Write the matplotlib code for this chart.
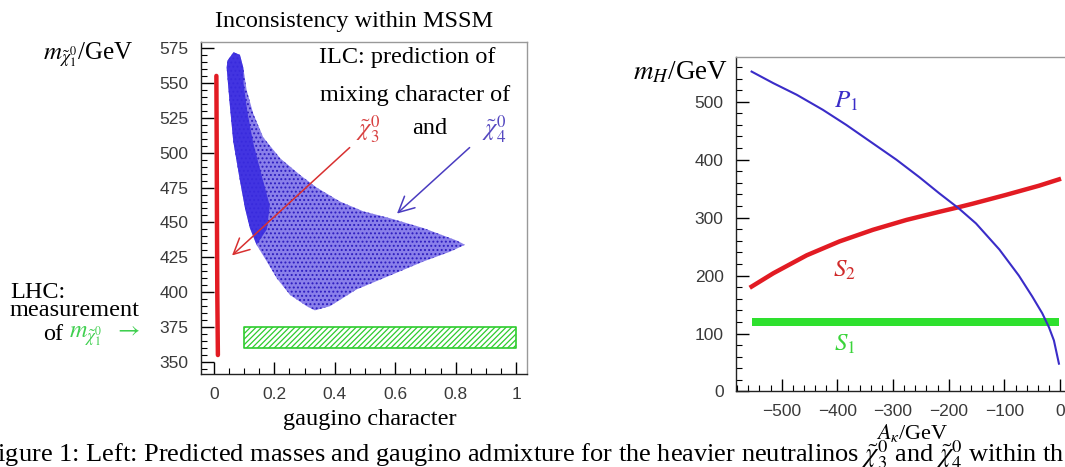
import matplotlib
matplotlib.use("Agg")
import matplotlib.pyplot as plt
from matplotlib.ticker import MultipleLocator

plt.rcParams['font.family'] = ['Liberation Serif', 'DejaVu Serif']
plt.rcParams['mathtext.fontset'] = 'stix'
plt.rcParams['hatch.linewidth'] = 0.9

# ---- left panel data ----
# chi3 band: gaugino character ~0
chi3_gaugino = [0.008, 0.009, 0.010, 0.011, 0.013]
chi3_mass = [555, 510, 450, 400, 355]

# chi4 scatter cloud outline (clockwise from the top tip)
chi4_gaugino = [0.045, 0.042, 0.053, 0.064, 0.086, 0.103, 0.119, 0.141, 0.175, 0.208,
                0.252, 0.307, 0.334, 0.384, 0.472, 0.583, 0.693, 0.781, 0.831,
                0.804, 0.693, 0.583, 0.494, 0.417, 0.340, 0.285, 0.219, 0.163,
                0.130, 0.108, 0.097, 0.086, 0.065]
chi4_mass = [566, 561, 533, 508, 480, 460, 446, 434, 422, 410,
             398, 390, 387, 390, 402, 412, 422, 429, 434,
             437, 446, 453, 458, 465, 475, 484, 496, 511,
             528, 545, 561, 570, 572]

# dense core of the chi4 cloud
core_gaugino = [0.045, 0.042, 0.053, 0.064, 0.086, 0.103, 0.119, 0.141,
                0.175, 0.185, 0.160, 0.130, 0.110, 0.098, 0.097, 0.086, 0.065]
core_mass = [566, 561, 533, 508, 480, 460, 446, 434,
             445, 462, 482, 507, 530, 550, 561, 570, 572]

# LHC measurement band
lhc_gaugino = [0.1, 1.0]
lhc_mass = [360, 375]

gaugino_ticks = [0, 0.2, 0.4, 0.6, 0.8, 1]
gaugino_labels = ['0', '0.2', '0.4', '0.6', '0.8', '1']
mass_ticks = [350, 375, 400, 425, 450, 475, 500, 525, 550, 575]

# ---- right panel data ----
ak_p1 = [-554, -515, -473, -426, -384, -336, -294, -253, -217, -182, -151,
         -109, -74, -50, -32, -20, -11, -2]
mh_p1 = [552, 532, 512, 486, 460, 428, 400, 370, 342, 316, 290,
         245, 200, 164, 135, 111, 88, 48]

ak_s2 = [-554, -515, -455, -396, -336, -276, -217, -182, -157, -98, -38, -2]
mh_s2 = [181, 204, 235, 259, 279, 296, 310, 318, 324, 339, 355, 366]

ak_s1 = [-554, -2]
mh_s1_low = [113, 113]
mh_s1_high = [126, 126]

ak_ticks = [-500, -400, -300, -200, -100, 0]
ak_labels = ['\u2212500', '\u2212400', '\u2212300', '\u2212200', '\u2212100', '0']
mh_ticks = [0, 100, 200, 300, 400, 500]

blue = '#3a2cc8'
red = '#e21b23'
green = '#2ee02e'
tick_font = dict(family='Liberation Sans', size=12.5, color='#3a3a3a')

fig = plt.figure(figsize=(10.65, 4.67), dpi=100)
ax1 = fig.add_axes([0.1887, 0.1991, 0.3061, 0.711])
ax2 = fig.add_axes([0.6911, 0.1617, 0.3192, 0.7173])

# left panel
ax1.fill(chi4_gaugino, chi4_mass, facecolor='#8a80ea', edgecolor='none')
ax1.fill(chi4_gaugino, chi4_mass, facecolor='none', edgecolor='#2c1cc0', hatch='....', lw=0)
ax1.fill(core_gaugino, core_mass, facecolor='#3a2ce0', edgecolor='none', alpha=0.9)
ax1.plot(chi3_gaugino, chi3_mass, color=red, lw=3.2, solid_capstyle='round')
ax1.fill_between(lhc_gaugino, lhc_mass[0], lhc_mass[1], facecolor='white',
                 edgecolor='#2ecc2e', hatch='//////', lw=1.2)

ax1.annotate('', xy=(0.053, 425), xytext=(0.456, 505),
             arrowprops=dict(arrowstyle='->', color='#d83030', lw=1.1, mutation_scale=28))
ax1.annotate('', xy=(0.599, 455), xytext=(0.853, 505),
             arrowprops=dict(arrowstyle='->', color='#4a3cc0', lw=1.1, mutation_scale=28))

ax1.text(0.64, 568.5, 'ILC: prediction of', ha='center', va='center', fontsize=17.5)
ax1.text(0.665, 541, 'mixing character of', ha='center', va='center', fontsize=17.5)
ax1.text(0.511, 516, r'$\tilde{\chi}^0_3$', ha='center', va='center', fontsize=17.5, color='#d84040')
ax1.text(0.715, 517, 'and', ha='center', va='center', fontsize=17.5)
ax1.text(0.927, 516, r'$\tilde{\chi}^0_4$', ha='center', va='center', fontsize=17.5, color='#5548c0')

ax1.set_xlim(-0.043, 1.036)
ax1.set_ylim(341.4, 579.3)
ax1.set_xticks(gaugino_ticks)
ax1.set_xticklabels(gaugino_labels, fontdict=tick_font)
ax1.set_yticks(mass_ticks)
ax1.set_yticklabels([str(m) for m in mass_ticks], fontdict=tick_font)
ax1.xaxis.set_minor_locator(MultipleLocator(0.05))
ax1.yaxis.set_minor_locator(MultipleLocator(5))

# right panel
ax2.fill_between(ak_s1, mh_s1_low, mh_s1_high, color=green, lw=0)
ax2.plot(ak_s2, mh_s2, color=red, lw=3.2)
ax2.plot(ak_p1, mh_p1, color=blue, lw=1.5)
ax2.text(-384, 500, r'$P_1$', color=blue, fontsize=18, ha='center', va='center')
ax2.text(-387, 209, r'$S_2$', color='#d02a2a', fontsize=18, ha='center', va='center')
ax2.text(-387, 82, r'$S_1$', color='#3ad43a', fontsize=18, ha='center', va='center')

ax2.set_xlim(-582, 28.6)
ax2.set_ylim(0, 578)
ax2.set_xticks(ak_ticks)
ax2.set_xticklabels(ak_labels, fontdict=tick_font)
ax2.set_yticks(mh_ticks)
ax2.set_yticklabels([str(m) for m in mh_ticks], fontdict=tick_font)
ax2.xaxis.set_minor_locator(MultipleLocator(20))
ax2.yaxis.set_minor_locator(MultipleLocator(20))

for ax in (ax1, ax2):
    ax.tick_params(which='major', direction='in', length=9, width=1, top=False, right=False, pad=9)
    ax.tick_params(which='minor', direction='in', length=4.5, width=0.8, top=False, right=False)
    for s in ax.spines.values():
        s.set_linewidth(1)
        s.set_color('#222222')
    ax.spines['top'].set_color('#999999')
    ax.spines['right'].set_color('#999999')

# labels and titles as figure text
fig.text(354 / 1065, 1 - 22 / 467, 'Inconsistency within MSSM', ha='center', va='center', fontsize=17.5)
fig.text(133 / 1065, 1 - 55 / 467, r'$m_{\tilde{\chi}^0_1}$/GeV', ha='right', va='center', fontsize=18)
fig.text(370 / 1065, 1 - 419 / 467, 'gaugino character', ha='center', va='center', fontsize=17.5)
fig.text(10 / 1065, 1 - 292 / 467, 'LHC:', ha='left', va='center', fontsize=17.5)
fig.text(10 / 1065, 1 - 311 / 467, 'measurement', ha='left', va='center', fontsize=17.5)
fig.text(43 / 1065, 1 - 334 / 467, 'of', ha='left', va='center', fontsize=17.5)
fig.text(69 / 1065, 1 - 337 / 467, r'$m_{\tilde{\chi}^0_1}$  $\rightarrow$', ha='left', va='center',
         fontsize=17.5, color='#3fcf4f')

fig.text(728 / 1065, 1 - 73 / 467, r'$m_H$/GeV', ha='right', va='center', fontsize=19.5)
fig.text(912 / 1065, 1 - 433 / 467, r'$A_\kappa$/GeV', ha='center', va='center', fontsize=16)

fig.text(-17 / 1065, 5 / 467,
         r'Figure 1: Left: Predicted masses and gaugino admixture for the heavier neutralinos '
         r'$\tilde{\chi}^0_3$ and $\tilde{\chi}^0_4$ within the',
         ha='left', va='baseline', fontsize=19)

fig.savefig('out.png', dpi=100)
